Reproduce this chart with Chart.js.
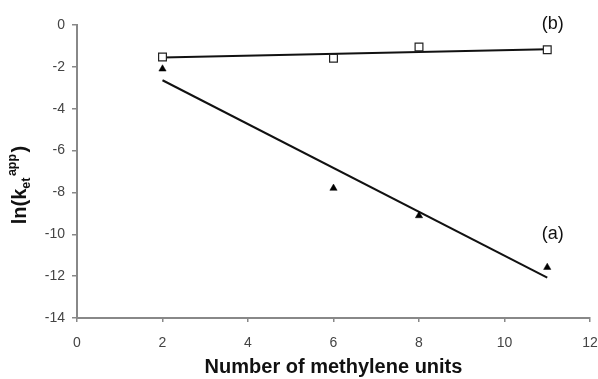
<!DOCTYPE html>
<html>
<head>
<meta charset="utf-8">
<script src="https://cdn.jsdelivr.net/npm/chart.js@4/dist/chart.umd.min.js"></script>
<style>
html,body{margin:0;padding:0;background:#fff;}
#wrap{width:598px;height:379px;position:relative;}
</style>
</head>
<body>
<div id="wrap"><canvas id="c" width="598" height="379"></canvas></div>
<script>
// Data
const xValues = [2, 6, 8, 11];
const seriesA = [-2.1, -7.8, -9.11, -11.58];   // triangles (a)
const seriesB = [-1.53, -1.59, -1.05, -1.18];  // squares (b)
const trendA = [[2, -2.64], [11, -12.07]];
const trendB = [[2, -1.55], [11, -1.16]];
const xTicks = [0, 2, 4, 6, 8, 10, 12];
const yTicks = [0, -2, -4, -6, -8, -10, -12, -14];
const xTitle = 'Number of methylene units';
const labelA = '(a)';
const labelB = '(b)';

const toPts = (xs, ys) => xs.map((x, i) => ({x: x, y: ys[i]}));
const toLine = arr => arr.map(p => ({x: p[0], y: p[1]}));

const FONT = "'Liberation Sans', Arial, sans-serif";

const annotPlugin = {
  id: 'annot',
  afterDraw(chart) {
    const ctx = chart.ctx;
    const xs = chart.scales.x, ys = chart.scales.y;
    ctx.save();
    ctx.fillStyle = '#111';
    ctx.font = '18px ' + FONT;
    ctx.textAlign = 'center';
    ctx.textBaseline = 'middle';
    ctx.fillText(labelB, xs.getPixelForValue(11.13), ys.getPixelForValue(0.05));
    ctx.fillText(labelA, xs.getPixelForValue(11.13), ys.getPixelForValue(-9.99));
    ctx.restore();

    // Y axis title with subscript / superscript
    ctx.save();
    const cx = 19, cy = 185;
    ctx.translate(cx, cy);
    ctx.rotate(-Math.PI / 2);
    ctx.fillStyle = '#111';
    ctx.textBaseline = 'alphabetic';
    ctx.textAlign = 'left';
    const big = 'bold 20px ' + FONT, small = 'bold 12.5px ' + FONT;
    ctx.font = big; const w1 = ctx.measureText('ln(k').width;
    ctx.font = small; const wSub = ctx.measureText('et').width; const wSup = ctx.measureText('app').width;
    ctx.font = big; const w4 = ctx.measureText(')').width;
    const gap = 1.5;
    const total = w1 + wSub + wSup + w4 + 2 * gap;
    let x = -total / 2;
    const base = 7;
    ctx.font = big; ctx.fillText('ln(k', x, base); x += w1;
    ctx.font = small; ctx.fillText('et', x, base + 4); x += wSub + gap;
    ctx.fillText('app', x, base - 10); x += wSup + gap;
    ctx.font = big; ctx.fillText(')', x, base);
    ctx.restore();
  }
};

new Chart(document.getElementById('c'), {
  type: 'scatter',
  data: {
    datasets: [
      {data: toPts(xValues, seriesB), pointStyle: 'rect', pointRadius: 5.5, pointBorderWidth: 1.2,
       pointBorderColor: '#222', pointBackgroundColor: '#fff', showLine: false, order: 1},
      {data: toPts(xValues, seriesA), pointStyle: 'triangle', pointRadius: 4.2, pointBorderWidth: 0.5,
       pointBorderColor: '#000', pointBackgroundColor: '#000', showLine: false, order: 1},
      {data: toLine(trendB), showLine: true, borderColor: '#111', borderWidth: 2, pointRadius: 0, order: 2},
      {data: toLine(trendA), showLine: true, borderColor: '#111', borderWidth: 2, pointRadius: 0, order: 2}
    ]
  },
  options: {
    responsive: false,
    animation: false,
    layout: {padding: {top: 25, right: 0, left: 0, bottom: 0}},
    plugins: {legend: {display: false}, tooltip: {enabled: false}},
    scales: {
      x: {
        type: 'linear', min: 0, max: 12,
        afterBuildTicks: s => { s.ticks = xTicks.map(v => ({value: v})); },
        afterFit: s => { s.height = 61; s.paddingRight = 8; },
        grid: {drawOnChartArea: false, drawTicks: true, tickLength: 4, color: '#888', lineWidth: 1.5},
        border: {color: '#888', width: 2},
        ticks: {color: '#444', font: {family: FONT, size: 14}, padding: 13, maxRotation: 0},
        title: {display: true, text: xTitle, color: '#111', font: {family: FONT, size: 20, weight: 'bold'}, padding: {top: 0, bottom: 0}}
      },
      y: {
        type: 'linear', min: -14, max: 0,
        afterBuildTicks: s => { s.ticks = yTicks.map(v => ({value: v})); },
        afterFit: s => { s.width = 77; },
        grid: {drawOnChartArea: false, drawTicks: true, tickLength: 5, color: '#888', lineWidth: 1.5},
        border: {color: '#888', width: 2},
        ticks: {color: '#444', font: {family: FONT, size: 14}, padding: 7}
      }
    }
  },
  plugins: [annotPlugin]
});
</script>
</body>
</html>
